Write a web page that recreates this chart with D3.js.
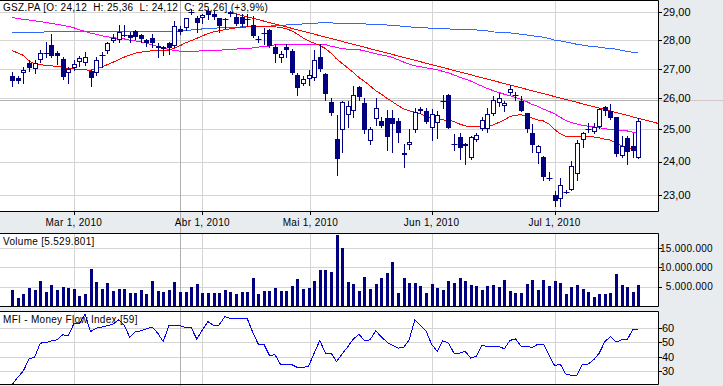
<!DOCTYPE html>
<html>
<head>
<meta charset="utf-8">
<script src="https://cdn.jsdelivr.net/npm/d3@7"></script>
<style>
  html, body { margin: 0; padding: 0; background: #e8ecef; }
  svg { display: block; font-family: "Liberation Sans", Arial, sans-serif; }
  .small { font-size: 10px; letter-spacing: 0.3px; }
</style>
</head>
<body>
<svg id="chart" width="723" height="386"></svg>
<script>

// ---- data (GSZ.PA daily, Feb 12 - Jul 22, 2010) ----

var symbol = 'GSZ.PA';

var dates = [
  '2010-02-12','2010-02-15','2010-02-16','2010-02-17','2010-02-18','2010-02-19','2010-02-22','2010-02-23','2010-02-24','2010-02-25',
  '2010-02-26','2010-03-01','2010-03-02','2010-03-03','2010-03-04','2010-03-05','2010-03-08','2010-03-09','2010-03-10','2010-03-11',
  '2010-03-12','2010-03-15','2010-03-16','2010-03-17','2010-03-18','2010-03-19','2010-03-22','2010-03-23','2010-03-24','2010-03-25',
  '2010-03-26','2010-03-29','2010-03-30','2010-03-31','2010-04-01','2010-04-06','2010-04-07','2010-04-08','2010-04-09','2010-04-12',
  '2010-04-13','2010-04-14','2010-04-15','2010-04-16','2010-04-19','2010-04-20','2010-04-21','2010-04-22','2010-04-23','2010-04-26',
  '2010-04-27','2010-04-28','2010-04-29','2010-04-30','2010-05-03','2010-05-04','2010-05-05','2010-05-06','2010-05-07','2010-05-10',
  '2010-05-11','2010-05-12','2010-05-13','2010-05-14','2010-05-17','2010-05-18','2010-05-19','2010-05-20','2010-05-21','2010-05-24',
  '2010-05-25','2010-05-26','2010-05-27','2010-05-28','2010-05-31','2010-06-01','2010-06-02','2010-06-03','2010-06-04','2010-06-07',
  '2010-06-08','2010-06-09','2010-06-10','2010-06-11','2010-06-14','2010-06-15','2010-06-16','2010-06-17','2010-06-18','2010-06-21',
  '2010-06-22','2010-06-23','2010-06-24','2010-06-25','2010-06-28','2010-06-29','2010-06-30','2010-07-01','2010-07-02','2010-07-05',
  '2010-07-06','2010-07-07','2010-07-08','2010-07-09','2010-07-12','2010-07-13','2010-07-14','2010-07-15','2010-07-16','2010-07-19',
  '2010-07-20','2010-07-21','2010-07-22'
];

var open = [
  26.74, 26.68, 26.87, 27.20, 27.00, 27.31, 27.55, 27.84, 27.53, 27.34,
  26.84, 27.02, 27.24, 27.21, 26.92, 26.84, 27.46, 27.61, 27.98, 28.01,
  28.19, 28.17, 28.32, 28.17, 28.00, 28.08, 27.80, 27.69, 27.90, 27.80,
  28.41, 28.42, 29.00, 28.78, 28.81, 29.06, 28.94, 28.78, 28.72, 28.95,
  28.83, 28.83, 28.71, 28.55, 28.04, 28.26, 28.36, 27.74, 27.38, 27.77,
  27.61, 26.78, 26.49, 26.64, 26.67, 27.39, 26.81, 25.88, 24.71, 24.98,
  25.47, 25.58, 26.37, 25.85, 24.63, 25.34, 25.27, 25.36, 25.36, 25.27,
  24.20, 24.52, 24.98, 25.66, 25.60, 25.03, 25.20, 25.93, 26.12, 24.53,
  24.76, 24.48, 24.11, 24.66, 25.00, 25.00, 25.50, 25.85, 25.74, 26.18,
  26.10, 25.93, 25.52, 24.90, 24.27, 24.15, 23.51, 22.99, 22.88, 23.10,
  23.16, 23.62, 24.66, 25.00, 24.93, 25.07, 25.72, 25.58, 25.39, 24.18,
  24.74, 24.47, 24.12
];

var high = [
  26.88, 26.75, 27.06, 27.29, 27.29, 27.66, 27.92, 28.21, 27.63, 27.40,
  27.06, 27.29, 27.44, 27.57, 26.95, 27.40, 27.57, 27.92, 28.23, 28.55,
  28.55, 28.29, 28.36, 28.23, 28.04, 28.23, 27.89, 27.80, 27.92, 28.68,
  28.49, 28.81, 29.13, 28.87, 28.94, 29.13, 29.06, 28.81, 28.81, 29.06,
  28.94, 28.94, 28.94, 28.87, 28.13, 28.42, 28.38, 27.86, 27.63, 27.86,
  27.69, 26.84, 26.75, 26.95, 27.66, 27.86, 26.84, 26.01, 25.47, 25.90,
  25.90, 26.40, 26.42, 26.01, 25.09, 26.01, 25.39, 25.63, 25.63, 25.36,
  24.55, 25.00, 25.68, 25.72, 25.68, 25.65, 25.58, 26.12, 26.14, 24.85,
  24.89, 24.57, 24.79, 24.87, 25.41, 25.68, 26.07, 26.18, 25.90, 26.45,
  26.23, 26.07, 25.54, 25.17, 24.50, 24.18, 23.69, 23.11, 23.50, 23.16,
  24.02, 24.66, 24.93, 25.20, 25.20, 25.68, 25.74, 25.83, 25.41, 24.79,
  24.79, 24.89, 25.36
];

var low = [
  26.43, 26.51, 26.51, 26.93, 26.84, 27.23, 27.40, 27.40, 27.17, 26.65,
  26.51, 26.95, 27.11, 27.14, 26.43, 26.78, 27.06, 27.56, 27.92, 27.92,
  28.13, 27.92, 28.04, 27.92, 27.80, 27.75, 27.40, 27.46, 27.52, 27.75,
  28.23, 28.36, 28.94, 28.29, 28.62, 28.74, 28.74, 28.29, 28.42, 28.87,
  28.55, 28.51, 28.49, 28.10, 27.92, 27.86, 27.75, 27.23, 27.23, 27.40,
  26.81, 26.10, 26.45, 26.45, 26.62, 26.92, 25.96, 25.47, 23.59, 24.29,
  25.09, 25.41, 25.96, 24.87, 24.55, 25.14, 25.09, 24.34, 24.29, 24.59,
  23.83, 24.39, 24.93, 25.52, 25.20, 24.68, 24.74, 25.68, 25.03, 24.34,
  24.07, 23.92, 24.07, 24.64, 24.98, 24.93, 25.47, 25.74, 25.60, 26.15,
  25.96, 25.58, 24.93, 24.29, 23.97, 23.45, 23.45, 22.67, 22.67, 23.07,
  23.14, 23.45, 24.45, 24.93, 24.89, 25.03, 25.47, 25.33, 24.18, 24.13,
  23.94, 24.13, 24.12
];

var close = [
  26.59, 26.59, 26.95, 27.02, 27.18, 27.55, 27.55, 27.45, 27.45, 26.73,
  26.98, 27.17, 27.38, 27.41, 26.67, 27.30, 27.46, 27.89, 28.06, 28.29,
  28.19, 28.08, 28.10, 28.04, 27.89, 27.89, 27.71, 27.77, 27.72, 28.51,
  28.27, 28.78, 29.00, 28.60, 28.90, 28.90, 28.83, 28.49, 28.77, 29.03,
  28.59, 28.59, 28.77, 28.14, 28.04, 28.26, 27.78, 27.52, 27.52, 27.66,
  26.84, 26.34, 26.65, 26.78, 27.31, 26.98, 26.14, 25.52, 24.07, 25.88,
  25.76, 26.12, 26.04, 24.98, 25.00, 25.68, 25.12, 24.77, 25.17, 24.90,
  24.27, 24.59, 25.57, 25.58, 25.25, 25.49, 25.47, 25.93, 25.05, 24.53,
  24.43, 24.55, 24.77, 24.82, 25.30, 25.49, 25.96, 26.01, 25.85, 26.32,
  26.10, 25.60, 25.00, 24.50, 24.47, 23.52, 23.51, 22.83, 23.29, 23.10,
  23.85, 24.57, 24.87, 25.00, 25.09, 25.65, 25.58, 25.36, 24.23, 24.48,
  24.29, 24.31, 25.26
];

var volume = [
  4170000, 2170000, 3120000, 4770000, 4250000, 6510000, 3650000, 5470000, 4170000, 4950000,
  4690000, 4430000, 2600000, 3120000, 9640000, 6250000, 4430000, 5990000, 3910000, 4430000,
  4430000, 3390000, 3390000, 4170000, 3120000, 6510000, 3910000, 3650000, 4170000, 6250000,
  3650000, 3650000, 4950000, 5730000, 3390000, 3390000, 3390000, 3390000, 4170000, 3650000,
  3120000, 3650000, 3650000, 7290000, 3120000, 3910000, 3910000, 4690000, 3910000, 3910000,
  5210000, 7030000, 4430000, 4690000, 6510000, 9370000, 9370000, 8850000, 18490000, 15100000,
  6250000, 5730000, 3910000, 7550000, 4430000, 5730000, 7290000, 8590000, 11460000, 3390000,
  7290000, 5990000, 5990000, 5210000, 3390000, 5730000, 4690000, 4170000, 6510000, 5990000,
  7290000, 6510000, 5470000, 5210000, 4170000, 5210000, 5470000, 4950000, 6770000, 3910000,
  3390000, 3390000, 5730000, 6770000, 4170000, 6770000, 5210000, 6510000, 5990000, 3120000,
  4950000, 5470000, 4430000, 3650000, 2340000, 3120000, 3120000, 3390000, 8330000, 5470000,
  4950000, 3650000, 5529801
];

// moving averages as shown on the chart (red, magenta, blue)
var ma20 = [
  27.63, 27.54, 27.46, 27.26, 27.17, 27.15, 27.11, 27.10, 27.08, 27.05,
  27.01, 26.99, 26.98, 26.96, 26.95, 27.00, 27.06, 27.14, 27.22, 27.31,
  27.40, 27.47, 27.54, 27.57, 27.60, 27.62, 27.63, 27.63, 27.64, 27.71,
  27.80, 27.90, 27.98, 28.06, 28.15, 28.23, 28.29, 28.33, 28.37, 28.40,
  28.44, 28.46, 28.47, 28.49, 28.49, 28.48, 28.47, 28.47, 28.46, 28.40,
  28.33, 28.21, 28.08, 27.97, 27.89, 27.81, 27.70, 27.54, 27.34, 27.18,
  27.03, 26.87, 26.70, 26.57, 26.42, 26.26, 26.14, 26.01, 25.89, 25.77,
  25.66, 25.60, 25.55, 25.50, 25.42, 25.36, 25.33, 25.30, 25.29, 25.25,
  25.17, 25.11, 25.09, 25.08, 25.08, 25.10, 25.14, 25.22, 25.30, 25.41,
  25.45, 25.47, 25.41, 25.36, 25.30, 25.27, 25.17, 25.00, 24.86, 24.78,
  24.77, 24.76, 24.76, 24.76, 24.76, 24.73, 24.69, 24.66, 24.57, 24.48,
  24.41, 24.38, 24.36
];

var ma50 = [
  28.81, 28.78, 28.74, 28.72, 28.69, 28.67, 28.63, 28.60, 28.56, 28.53,
  28.49, 28.44, 28.37, 28.31, 28.24, 28.21, 28.15, 28.12, 28.09, 28.06,
  28.04, 28.00, 27.97, 27.93, 27.89, 27.83, 27.77, 27.72, 27.67, 27.63,
  27.61, 27.61, 27.61, 27.61, 27.62, 27.63, 27.63, 27.64, 27.66, 27.67,
  27.68, 27.70, 27.71, 27.72, 27.75, 27.77, 27.79, 27.83, 27.85, 27.86,
  27.86, 27.86, 27.86, 27.86, 27.86, 27.86, 27.85, 27.78, 27.74, 27.69,
  27.68, 27.67, 27.66, 27.62, 27.57, 27.52, 27.48, 27.44, 27.39, 27.31,
  27.23, 27.16, 27.10, 27.07, 27.03, 27.00, 26.96, 26.91, 26.86, 26.79,
  26.71, 26.65, 26.58, 26.49, 26.41, 26.33, 26.26, 26.20, 26.14, 26.09,
  26.03, 25.97, 25.90, 25.80, 25.74, 25.65, 25.58, 25.50, 25.39, 25.28,
  25.22, 25.17, 25.13, 25.10, 25.08, 25.05, 25.02, 25.00, 24.98, 24.97,
  24.95, 24.91, 24.89
];

var ma200 = [
  28.27, 28.27, 28.27, 28.27, 28.27, 28.28, 28.29, 28.29, 28.29, 28.29,
  28.29, 28.29, 28.29, 28.29, 28.29, 28.31, 28.31, 28.31, 28.31, 28.31,
  28.31, 28.32, 28.32, 28.32, 28.32, 28.32, 28.32, 28.32, 28.32, 28.32,
  28.32, 28.35, 28.36, 28.37, 28.40, 28.41, 28.42, 28.44, 28.45, 28.46,
  28.46, 28.47, 28.47, 28.49, 28.49, 28.49, 28.50, 28.51, 28.53, 28.54,
  28.55, 28.56, 28.58, 28.59, 28.60, 28.62, 28.62, 28.62, 28.60, 28.60,
  28.59, 28.59, 28.58, 28.58, 28.56, 28.55, 28.55, 28.54, 28.53, 28.51,
  28.49, 28.47, 28.46, 28.45, 28.44, 28.42, 28.41, 28.40, 28.40, 28.38,
  28.38, 28.37, 28.37, 28.36, 28.35, 28.33, 28.29, 28.28, 28.27, 28.26,
  28.23, 28.21, 28.18, 28.15, 28.13, 28.10, 28.06, 28.00, 27.97, 27.93,
  27.89, 27.85, 27.82, 27.79, 27.77, 27.75, 27.72, 27.70, 27.68, 27.63,
  27.60, 27.57, 27.55
];

var mfi = [
  21.0, 25.9, 30.3, 38.5, 39.7, 49.3, 49.7, 50.9, 51.6, 55.0,
  54.5, 62.5, 62.7, 69.2, 57.3, 59.6, 60.3, 61.4, 62.3, 65.3,
  61.8, 53.4, 57.3, 57.7, 59.1, 60.5, 56.2, 50.4, 61.4, 61.4,
  61.4, 60.0, 60.0, 52.0, 58.4, 64.1, 61.4, 61.8, 67.5, 66.4,
  66.4, 66.4, 66.4, 56.8, 48.6, 48.6, 40.8, 41.3, 34.5, 34.9,
  34.5, 32.6, 32.6, 33.3, 42.5, 51.1, 42.5, 42.5, 36.7, 41.8,
  46.8, 52.0, 55.5, 50.9, 51.6, 57.7, 53.8, 50.0, 47.7, 45.9,
  46.3, 51.6, 65.3, 61.4, 57.7, 48.6, 43.6, 50.9, 49.3, 42.5,
  42.5, 43.6, 39.0, 40.2, 47.7, 47.1, 47.1, 47.1, 45.4, 51.1,
  52.3, 47.1, 47.1, 46.3, 48.6, 48.6, 41.3, 33.8, 34.9, 28.1,
  27.1, 27.1, 34.9, 34.9, 37.9, 42.5, 50.4, 53.8, 50.0, 51.6,
  51.6, 58.9, 58.9
];

// user-drawn trend line through two highs, extended to the right edge
var trendAnchors = [ { index: 39, price: 29.00 }, { index: 89, price: 26.45 } ];

// cursor crosshair position
var cursor = { index: 30, price: 25.95 };

var priceTicks  = [23, 24, 25, 26, 27, 28, 29];
var volumeTicks = [5000000, 10000000, 15000000];
var mfiTicks    = [30, 40, 50, 60];
var monthTicks  = ['2010-03-01', '2010-04-01', '2010-05-01', '2010-06-01', '2010-07-01'];
var monthLabels = ['Mar 1, 2010', 'Abr 1, 2010', 'Mai 1, 2010', 'Jun 1, 2010', 'Jul 1, 2010'];


// ---- layout ----

var plotRight = 658;
var panels = {
  price:  { top: 0,   bottom: 211 },
  volume: { top: 233, bottom: 306 },
  mfi:    { top: 311, bottom: 384 }
};

var navy = '#000080',
    grid = '#d4d4d4';

var fr = d3.formatLocale({ decimal: ',', thousands: '.', grouping: [3], currency: ['', ' €'] });
var fmtPrice = fr.format('.2f'),
    fmtVol   = fr.format(',d'),
    fmtPct   = fr.format('+.1f');

var svg = d3.select('#chart');
var parse = d3.timeParse('%Y-%m-%d');
var dayTimes = dates.map(function(d) { return parse(d).getTime(); });

var x = d3.scaleLinear().domain([-2.2, 115.5]).range([0, plotRight]);
var y = d3.scaleLog().domain([22.54, 29.46]).range([panels.price.bottom, panels.price.top]);
var yVol = d3.scaleLinear().domain([0, 18900000]).range([panels.volume.bottom, panels.volume.top]);
var yMfi = d3.scaleLinear().domain([21.2, 71.4]).range([panels.mfi.bottom, panels.mfi.top]);

function px(v) { return Math.round(v) + 0.5; }

/* ======================================
 * Position of a calendar date on the trading-day index,
 * interpolated between trading days when the market was closed.
 */
function datePos(str) {
  var t = parse(str).getTime();
  var j = d3.bisectLeft(dayTimes, t);
  if (dayTimes[j] === t || j === 0) return j;
  return (j - 1) + (t - dayTimes[j - 1]) / (dayTimes[j] - dayTimes[j - 1]);
}

var monthPos = monthTicks.map(datePos);


// ---- panel backgrounds and grids ----

Object.keys(panels).forEach(function(key) {
  var p = panels[key];
  svg.append('rect')
    .attr('x', 0).attr('y', p.top)
    .attr('width', plotRight).attr('height', p.bottom - p.top)
    .attr('fill', '#fff');

  svg.append('g').selectAll('line').data(monthPos).enter().append('line')
    .attr('x1', function(d) { return px(x(d)); })
    .attr('x2', function(d) { return px(x(d)); })
    .attr('y1', p.top).attr('y2', p.bottom)
    .attr('stroke', grid);
});

function hGrid(ticks, scale, p) {
  svg.append('g').selectAll('line').data(ticks).enter().append('line')
    .attr('x1', 0).attr('x2', plotRight)
    .attr('y1', function(d) { return px(scale(d)); })
    .attr('y2', function(d) { return px(scale(d)); })
    .attr('stroke', grid);
}
hGrid(priceTicks, y, panels.price);
hGrid(volumeTicks, yVol, panels.volume);
hGrid(mfiTicks, yMfi, panels.mfi);

// crosshair
svg.append('line')
  .attr('x1', px(x(cursor.index))).attr('x2', px(x(cursor.index)))
  .attr('y1', 0).attr('y2', 386)
  .attr('stroke', '#b0b0b0');
svg.append('line')
  .attr('x1', 0).attr('x2', plotRight)
  .attr('y1', px(y(cursor.price))).attr('y2', px(y(cursor.price)))
  .attr('stroke', '#b0b0b0');
svg.append('line')
  .attr('x1', plotRight).attr('x2', 723)
  .attr('y1', px(y(cursor.price))).attr('y2', px(y(cursor.price)))
  .attr('stroke', '#d6c6c6');


// ---- price panel ----

svg.append('clipPath').attr('id', 'clip-price')
  .append('rect').attr('x', 0).attr('y', panels.price.top)
  .attr('width', plotRight).attr('height', panels.price.bottom - panels.price.top);

var pricePlot = svg.append('g').attr('clip-path', 'url(#clip-price)');

var idx = d3.range(dates.length);

function maLine(values, color) {
  var line = d3.line()
    .x(function(i) { return x(i); })
    .y(function(i) { return y(values[i]); });
  pricePlot.append('path')
    .attr('d', line(idx))
    .attr('fill', 'none')
    .attr('stroke', color)
    .attr('stroke-width', 1)
    .attr('shape-rendering', 'crispEdges');
}
maLine(ma200, '#3366ff');
maLine(ma50, '#ff00ff');
maLine(ma20, '#ff0000');

// trend line
var tx1 = x(trendAnchors[0].index), ty1 = y(trendAnchors[0].price),
    tx2 = x(trendAnchors[1].index), ty2 = y(trendAnchors[1].price);
var slope = (ty2 - ty1) / (tx2 - tx1);
pricePlot.append('line')
  .attr('x1', tx1).attr('y1', ty1)
  .attr('x2', plotRight).attr('y2', ty1 + slope * (plotRight - tx1))
  .attr('stroke', '#ff0000')
  .attr('shape-rendering', 'crispEdges');

// candles
var candles = pricePlot.append('g').selectAll('g').data(idx).enter().append('g');

candles.append('line')
  .attr('x1', function(i) { return px(x(i)); })
  .attr('x2', function(i) { return px(x(i)); })
  .attr('y1', function(i) { return Math.round(y(high[i])); })
  .attr('y2', function(i) { return Math.round(y(low[i])) + 1; })
  .attr('stroke', navy);

candles.each(function(i) {
  var g = d3.select(this),
      cx = px(x(i)),
      top = Math.round(y(Math.max(open[i], close[i]))),
      bot = Math.round(y(Math.min(open[i], close[i])));

  if (bot - top < 2) {
    // doji
    g.append('line')
      .attr('x1', cx - 3).attr('x2', cx + 3)
      .attr('y1', top + 0.5).attr('y2', top + 0.5)
      .attr('stroke', navy);
  } else {
    g.append('rect')
      .attr('x', cx - 2).attr('y', top + 0.5)
      .attr('width', 4).attr('height', bot - top - 1)
      .attr('fill', close[i] < open[i] ? navy : '#fff')
      .attr('stroke', navy);
  }
});


// ---- volume panel ----

svg.append('g').selectAll('rect').data(idx).enter().append('rect')
  .attr('x', function(i) { return Math.round(x(i)) - 1; })
  .attr('y', function(i) { return Math.round(yVol(volume[i])); })
  .attr('width', 3)
  .attr('height', function(i) { return panels.volume.bottom - Math.round(yVol(volume[i])); })
  .attr('fill', navy);


// ---- MFI panel ----

svg.append('clipPath').attr('id', 'clip-mfi')
  .append('rect').attr('x', 0).attr('y', panels.mfi.top)
  .attr('width', plotRight).attr('height', panels.mfi.bottom - panels.mfi.top);

svg.append('path')
  .attr('clip-path', 'url(#clip-mfi)')
  .attr('d', d3.line().x(function(i) { return x(i); }).y(function(i) { return yMfi(mfi[i]); })(idx))
  .attr('fill', 'none')
  .attr('stroke', '#0000ff')
  .attr('shape-rendering', 'crispEdges');


// ---- borders and axes ----

Object.keys(panels).forEach(function(key) {
  var p = panels[key];
  svg.append('path')
    .attr('d', 'M0,' + (p.top + 0.5) + 'H' + (plotRight + 0.5) + 'V' + (p.bottom + 0.5) + 'H0')
    .attr('fill', 'none')
    .attr('stroke', '#000');
});

function rightAxis(ticks, scale, fmt, anchor, tx, cls) {
  var g = svg.append('g');
  g.selectAll('line').data(ticks).enter().append('line')
    .attr('x1', plotRight).attr('x2', plotRight + 4)
    .attr('y1', function(d) { return px(scale(d)); })
    .attr('y2', function(d) { return px(scale(d)); })
    .attr('stroke', '#000');
  g.selectAll('text').data(ticks).enter().append('text')
    .attr('x', tx)
    .attr('y', function(d) { return scale(d); })
    .attr('dy', '0.36em')
    .attr('text-anchor', anchor)
    .attr('class', cls)
    .attr('font-size', 11)
    .attr('fill', '#000')
    .text(fmt);
}
rightAxis(priceTicks, y, fmtPrice, 'start', 663, null);
rightAxis(volumeTicks, yVol, fmtVol, 'end', 713, 'small');
rightAxis(mfiTicks, yMfi, function(d) { return d; }, 'start', 662, null);

// date axis
var xa = svg.append('g');
xa.selectAll('line').data(monthPos).enter().append('line')
  .attr('x1', function(d) { return px(x(d)); })
  .attr('x2', function(d) { return px(x(d)); })
  .attr('y1', panels.price.bottom).attr('y2', panels.price.bottom + 4)
  .attr('stroke', '#000');
xa.selectAll('text').data(monthPos).enter().append('text')
  .attr('x', function(d) { return x(d); })
  .attr('y', 226)
  .attr('text-anchor', 'middle')
  .attr('class', 'small')
  .text(function(d, k) { return monthLabels[k]; });


// ---- titles ----

var last = dates.length - 1;
var change = (close[last] / close[last - 1] - 1) * 100;
var gap = '\u00a0\u00a0';

svg.append('text')
  .attr('x', 3).attr('y', 11)
  .attr('class', 'small')
  .text(symbol + ' [O: ' + fmtPrice(open[last]) + gap + 'H: ' + fmtPrice(high[last]) +
        gap + 'L: ' + fmtPrice(low[last]) + gap + 'C: ' + fmtPrice(close[last]) + '] (' + fmtPct(change) + '%)');

svg.append('text')
  .attr('x', 3).attr('y', panels.volume.top + 12)
  .attr('class', 'small')
  .text('Volume [' + fmtVol(volume[last]) + ']');

svg.append('text')
  .attr('x', 3).attr('y', panels.mfi.top + 12)
  .attr('class', 'small')
  .text('MFI - Money Flow Index [' + Math.round(mfi[last]) + ']');

</script>
</body>
</html>
